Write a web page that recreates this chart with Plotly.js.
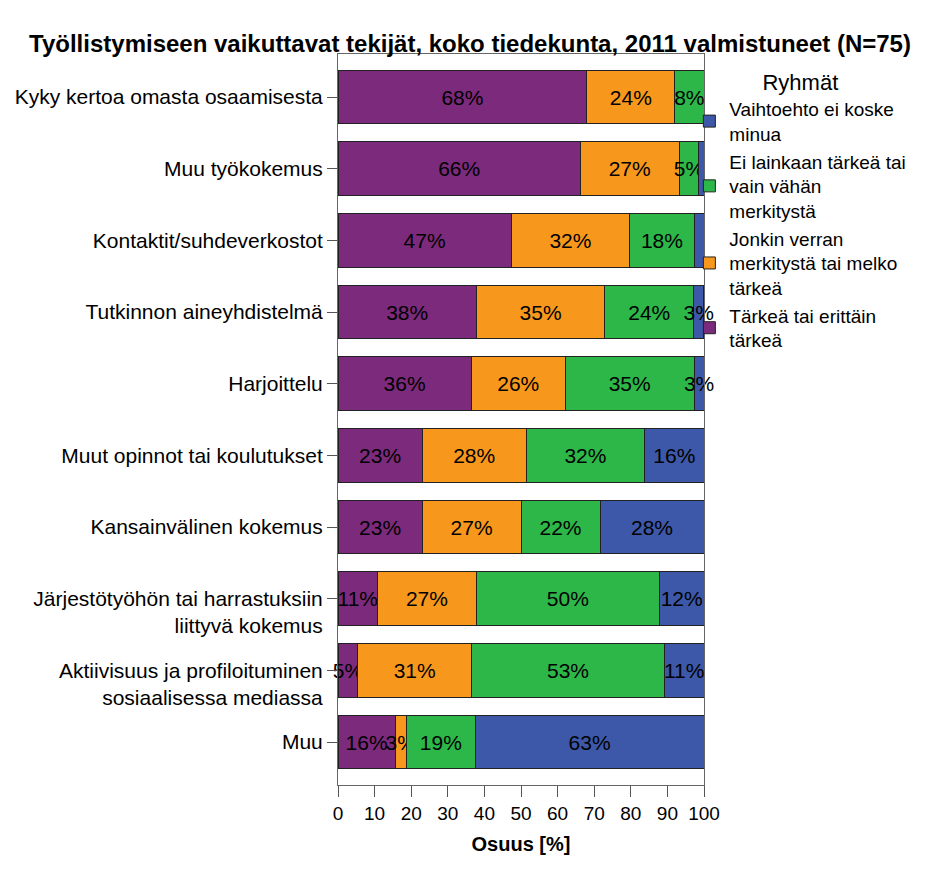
<!DOCTYPE html>
<html>
<head>
<meta charset="utf-8">
<script src="https://cdn.plot.ly/plotly-3.0.1.min.js"></script>
<style>html,body{margin:0;padding:0;background:#fff;}#chart{width:940px;height:873px;}</style>
</head>
<body>
<div id="chart"></div>
<script>
// Categories (top to bottom)
const categories = [
  "Kyky kertoa omasta osaamisesta",
  "Muu työkokemus",
  "Kontaktit/suhdeverkostot",
  "Tutkinnon aineyhdistelmä",
  "Harjoittelu",
  "Muut opinnot tai koulutukset",
  "Kansainvälinen kokemus",
  "Järjestötyöhön tai harrastuksiin liittyvä kokemus",
  "Aktiivisuus ja profiloituminen sosiaalisessa mediassa",
  "Muu"
];
const tickLabels = [
  "Kyky kertoa omasta osaamisesta",
  "Muu työkokemus",
  "Kontaktit/suhdeverkostot",
  "Tutkinnon aineyhdistelmä",
  "Harjoittelu",
  "Muut opinnot tai koulutukset",
  "Kansainvälinen kokemus",
  " <br>Järjestötyöhön tai harrastuksiin<br>liittyvä kokemus",
  " <br>Aktiivisuus ja profiloituminen<br>sosiaalisessa mediassa",
  "Muu"
];
// Series values (%)
const tarkea     = [68.0, 66.2, 47.3, 37.8, 36.4, 23.0, 23.0, 10.8, 5.4, 15.6];
const jonkin     = [24.0, 27.0, 32.4, 35.1, 25.7, 28.4, 27.0, 27.0, 31.1, 3.1];
const eiLainkaan = [8.0, 5.4, 17.6, 24.3, 35.2, 32.4, 21.6, 50.0, 52.7, 18.8];
const eiKoske    = [0.0, 1.4, 2.7, 2.7, 2.7, 16.2, 28.4, 12.2, 10.8, 62.5];
// Labels hidden in the original chart (index lists per series)
const hiddenEiKoske = [0, 1, 2];

const seriesNames = [
  "Tärkeä tai erittäin<br>tärkeä",
  "Jonkin verran<br>merkitystä tai melko<br>tärkeä",
  "Ei lainkaan tärkeä tai<br>vain vähän<br>merkitystä",
  "Vaihtoehto ei koske<br>minua"
];
const colors = ["#7b2a7c", "#f7981d", "#2db749", "#3d58a8"];
const seriesData = [tarkea, jonkin, eiLainkaan, eiKoske];
const hidden = [[], [], [], hiddenEiKoske];

const traces = seriesData.map((vals, k) => ({
  type: "bar",
  orientation: "h",
  name: seriesNames[k],
  y: categories,
  x: vals,
  text: vals.map((v, i) => (v > 0 && hidden[k].indexOf(i) < 0) ? Math.round(v) + "%" : ""),
  textposition: "inside",
  insidetextanchor: "middle",
  textangle: 0,
  constraintext: "none",
  cliponaxis: false,
  textfont: {family: "Liberation Sans, Arial, sans-serif", size: 21, color: "#000"},
  marker: {color: colors[k], line: {color: "#222", width: 1}},
  hoverinfo: "skip"
}));

const layout = {
  width: 940, height: 873,
  barmode: "stack",
  bargap: 0.247,
  paper_bgcolor: "#fff", plot_bgcolor: "#fff",
  font: {family: "Liberation Sans, Arial, sans-serif", size: 19, color: "#000"},
  margin: {l: 338, r: 236, t: 54, b: 88, pad: 0},
  uniformtext: {mode: "show", minsize: 21},
  title: {
    text: "<b>Työllistymiseen vaikuttavat tekijät, koko tiedekunta, 2011 valmistuneet (N=75)</b>",
    font: {size: 24, color: "#000"},
    xref: "container", x: 0.5, xanchor: "center",
    yref: "container", y: 1 - 44/873, yanchor: "middle"
  },
  xaxis: {
    range: [0, 100], tickvals: [0,10,20,30,40,50,60,70,80,90,100],
    ticks: "outside", ticklen: 11, tickcolor: "#555", tickwidth: 1,
    showline: true, linecolor: "#666", linewidth: 1, mirror: true,
    showgrid: false, zeroline: false,
    tickfont: {size: 19},
    title: {text: "<b>Osuus [%]</b>", font: {size: 20}, standoff: 14}
  },
  yaxis: {
    type: "category",
    range: [9.6, -0.6],
    tickvals: categories, ticktext: tickLabels,
    ticks: "outside", ticklen: 10, tickcolor: "#555", tickwidth: 1,
    showline: true, linecolor: "#666", linewidth: 1, mirror: true,
    showgrid: false, zeroline: false,
    tickfont: {size: 21}
  },
  legend: {
    traceorder: "reversed",
    x: 0.96, xanchor: "left", y: 0.99, yanchor: "top",
    bgcolor: "rgba(0,0,0,0)",
    font: {size: 19},
    title: {text: "Ryhmät", side: "top center", font: {size: 22}},
    valign: "middle"
  },
  showlegend: true
};

Plotly.newPlot("chart", traces, layout, {displayModeBar: false, staticPlot: true});
</script>
</body>
</html>
